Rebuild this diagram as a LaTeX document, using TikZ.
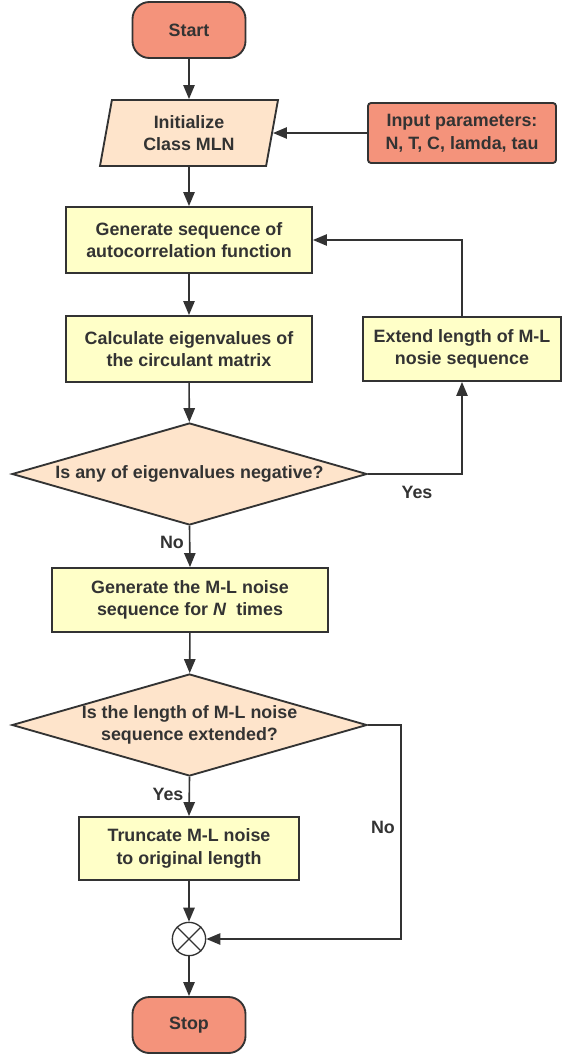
\documentclass[tikz,border=0pt]{standalone}
\usepackage{fontspec}
\setmainfont{Liberation Sans}
\usepackage{tikz}
\usetikzlibrary{arrows.meta,shapes.geometric}

\definecolor{salmon}{HTML}{F4937B}
\definecolor{peach}{HTML}{FEE4CB}
\definecolor{paleyellow}{HTML}{FFFFC8}
\definecolor{ink}{HTML}{333333}

\begin{document}
\begin{tikzpicture}[x=0.75pt,y=-0.75pt,
        font={\bfseries\fontsize{13.4}{17}\selectfont}, text=ink,
        base/.style={draw=ink, line width=1.4pt, align=center},
        terminal/.style={base, fill=salmon, rounded corners=12.75pt,
            minimum width=84.75pt, minimum height=42pt},
        process/.style={base, fill=paleyellow, inner sep=0pt},
        decision/.style={base, fill=peach, shape=diamond, shape aspect=3.5,
            inner sep=0pt, minimum width=266.25pt, minimum height=76.5pt},
        arrow/.style={draw=ink, line width=1.2pt,
            -{Triangle[length=10.5pt,width=8.5pt]}},
        branch/.style={font={\bfseries\fontsize{13.4}{17}\selectfont}}]
        \useasboundingbox (0,0) rectangle (561,1057);

        \node[terminal] (start) at (189,30) {Start};

        \node[base, fill=peach, shape=trapezium, trapezium left angle=71.6,
            trapezium right angle=108.4, trapezium stretches body=true,
            minimum width=133.5pt, minimum height=49.5pt, inner sep=0pt]
            (init) at (189,133) {Initialize\\Class MLN};

        \node[base, fill=salmon, rounded corners=2.25pt, minimum width=141pt,
            minimum height=45pt, inner sep=0pt] (input) at (462,133)
            {Input parameters:\\N, T, C, lamda, tau};

        \node[process, minimum width=184.5pt, minimum height=49.5pt] (gen) at (189,240)
            {Generate sequence of\\autocorrelation function};

        \node[process, minimum width=184.5pt, minimum height=49.5pt] (calc) at (189,349)
            {Calculate eigenvalues of\\the circulant matrix};

        \node[process, minimum width=148.5pt, minimum height=48pt] (extend) at (462,349)
            {Extend length of M-L\\nosie sequence};

        \node[decision] (negq) at (189.5,474) {Is any of eigenvalues negative?};

        \node[process, minimum width=207pt, minimum height=48pt] (genml) at (190,600)
            {Generate the M-L noise\\sequence for \textit{N}~ times};

        \node[decision] (extq) at (189.5,725)
            {Is the length of M-L noise\\sequence extended?};

        \node[process, minimum width=165pt, minimum height=47.25pt] (trunc) at (189,848.5)
            {Truncate M-L noise\\to original length};

        \node[draw=ink, line width=1pt, fill=white, circle, minimum size=25pt,
            inner sep=0pt] (merge) at (189,939) {};
        \draw[draw=ink, line width=1pt] (merge.north east) -- (merge.south west)
            (merge.north west) -- (merge.south east);

        \node[terminal] (stop) at (189,1025) {Stop};

        % labels on the branches
        \node[branch] (yesneg) at (417,492) {Yes};
        \node[branch] (noneg) at (172,542) {No};
        \node[branch] (yesext) at (168,794) {Yes};
        \node[branch] (noext) at (383,827) {No};

        \coordinate (noturn) at (401,725);

        % connectors
        \draw[arrow] (start) -- (init);
        \draw[arrow] (input) -- (init);
        \draw[arrow] (init) -- (gen);
        \draw[arrow] (gen) -- (calc);
        \draw[arrow] (calc) -- (negq);
        \draw[arrow] (negq.east) -| (extend.south);
        \draw[arrow] (extend.north) |- (gen.east);
        \draw[arrow] (negq.south) -- (genml.north);
        \draw[arrow] (genml) -- (extq);
        \draw[arrow] (extq.south) -- (trunc.north);
        \draw[arrow] (extq.east) -- (noturn) |- (merge.east);
        \draw[arrow] (trunc) -- (merge);
        \draw[arrow] (merge) -- (stop);
    \end{tikzpicture}
\end{document}
